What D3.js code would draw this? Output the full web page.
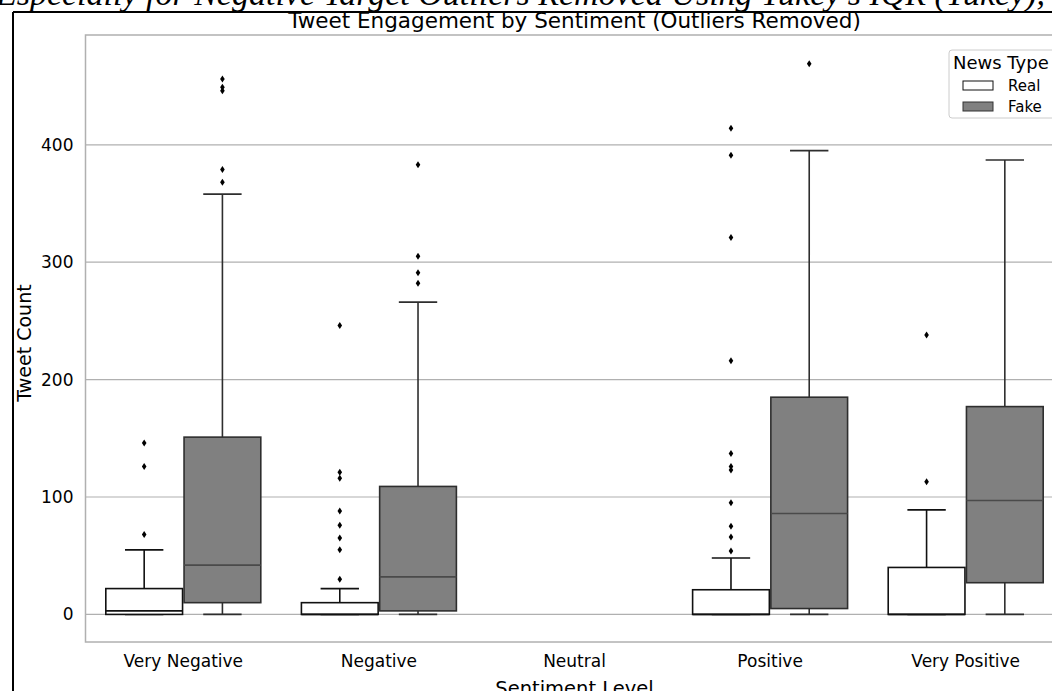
<!DOCTYPE html>
<html>
<head>
<meta charset="utf-8">
<script src="https://cdn.jsdelivr.net/npm/d3@7"></script>
<style>
  html, body { margin: 0; padding: 0; background: #fff; overflow: hidden; }
  svg { display: block; font-family: "DejaVu Sans", sans-serif; }
</style>
</head>
<body>
<svg id="chart" width="1052" height="691"></svg>
<script>
// Sentiment categories on the x axis
const categories = ["Very Negative", "Negative", "Neutral", "Positive", "Very Positive"];
const seriesNames = ["Real", "Fake"];
const seriesFill = ["#ffffff", "#808080"];
const yTicks = [0, 100, 200, 300, 400];

// Box statistics per category (null where a category has no tweets)
// [whiskerLow, q1, median, q3, whiskerHigh]
const realBoxes = [
  [0, 0, 3, 22, 55],
  [0, 0, 0, 10, 22],
  null,
  [0, 0, 0, 21, 48],
  [0, 0, 0, 40, 89]
];
const fakeBoxes = [
  [0, 10, 42, 151, 358],
  [0, 3, 32, 109, 266],
  null,
  [0, 5, 86, 185, 395],
  [0, 27, 97, 177, 387]
];

// Points beyond the whiskers
const realOutliers = [
  [146, 126, 68],
  [246, 121, 116, 88, 76, 65, 55, 30],
  [],
  [414, 391, 321, 216, 137, 126, 123, 95, 75, 66, 54],
  [238, 113]
];
const fakeOutliers = [
  [456, 449, 446, 379, 368],
  [383, 305, 291, 282],
  [],
  [469],
  []
];

const svg = d3.select("#chart");
const W = 1052, H = 691;

// caption line above the frame
const caption = svg.append("text")
  .attr("y", 4.5)
  .attr("font-family", "'Liberation Serif', serif")
  .attr("font-style", "italic")
  .attr("font-size", 34)
  .attr("fill", "#000")
  .text("Especially for Negative Target Outliers Removed Using Tukey's IQR (Tukey),");
// shift so that the word "for" begins near x = 146
const forIdx = caption.text().indexOf("for");
caption.attr("x", 0);
const forX = caption.node().getStartPositionOfChar(forIdx).x;
caption.attr("x", 146 - forX);

// outer frame of the figure
svg.append("rect").attr("x", 13).attr("y", 12).attr("width", W).attr("height", H)
  .attr("fill", "#fff");
svg.append("line").attr("x1", 13).attr("x2", 13).attr("y1", 12).attr("y2", H)
  .attr("stroke", "#000").attr("stroke-width", 2);
svg.append("line").attr("x1", 13).attr("x2", W).attr("y1", 12).attr("y2", 12)
  .attr("stroke", "#000").attr("stroke-width", 2);

const plot = { left: 85.5, right: 1063.5, top: 35, bottom: 642 };

const x = d3.scaleBand().domain(categories).range([plot.left, plot.right]).padding(0);
const y = d3.scaleLinear().domain([-23.5, 493.5]).range([plot.bottom, plot.top]);
const bw = x.bandwidth();
const boxW = bw * 0.4 - 1.5;

const clip = svg.append("defs").append("clipPath").attr("id", "plotclip");
clip.append("rect").attr("x", plot.left).attr("y", plot.top)
  .attr("width", plot.right - plot.left).attr("height", plot.bottom - plot.top);

// horizontal grid lines
svg.append("g").selectAll("line").data(yTicks).join("line")
  .attr("x1", plot.left).attr("x2", plot.right)
  .attr("y1", d => y(d)).attr("y2", d => y(d))
  .attr("stroke", "#b0b0b0").attr("stroke-width", 1.2);

// y axis labels (no tick marks)
const yAxis = d3.axisLeft(y).tickValues(yTicks).tickSize(0).tickPadding(12);
svg.append("g").attr("transform", `translate(${plot.left},0)`).call(yAxis)
  .call(g => g.select(".domain").remove())
  .call(g => g.selectAll("text").attr("font-size", 17).attr("fill", "#000")
    .attr("font-family", "'DejaVu Sans', sans-serif"));

// x axis labels
const xAxis = d3.axisBottom(x).tickSize(0).tickPadding(13);
svg.append("g").attr("transform", `translate(0,${plot.bottom})`).call(xAxis)
  .call(g => g.select(".domain").remove())
  .call(g => g.selectAll("text").attr("font-size", 17).attr("fill", "#000")
    .attr("font-family", "'DejaVu Sans', sans-serif"));

// axes frame
svg.append("rect").attr("x", plot.left).attr("y", plot.top)
  .attr("width", plot.right - plot.left).attr("height", plot.bottom - plot.top)
  .attr("fill", "none").attr("stroke", "#b0b0b0").attr("stroke-width", 1.5);

const marks = svg.append("g").attr("clip-path", "url(#plotclip)");

function drawSeries(boxes, outliers, si) {
  const edge = si === 0 ? "#111" : "#2e2e2e";
  const medColor = si === 0 ? "#111" : "#4a4a4a";
  boxes.forEach((b, i) => {
    const c = x(categories[i]) + bw / 2 + (si === 0 ? -1 : 1) * bw * 0.2;
    if (b) {
      const [lo, q1, med, q3, hi] = b;
      const g = marks.append("g");
      // whiskers
      g.append("line").attr("x1", c).attr("x2", c).attr("y1", y(q3)).attr("y2", y(hi))
        .attr("stroke", edge).attr("stroke-width", 1.6);
      g.append("line").attr("x1", c).attr("x2", c).attr("y1", y(q1)).attr("y2", y(lo))
        .attr("stroke", edge).attr("stroke-width", 1.6);
      [lo, hi].forEach(v => {
        g.append("line").attr("x1", c - boxW / 4).attr("x2", c + boxW / 4)
          .attr("y1", y(v)).attr("y2", y(v))
          .attr("stroke", edge).attr("stroke-width", 1.6);
      });
      // box
      g.append("rect").attr("x", c - boxW / 2).attr("y", y(q3))
        .attr("width", boxW).attr("height", Math.max(0, y(q1) - y(q3)))
        .attr("fill", seriesFill[si]).attr("stroke", edge).attr("stroke-width", 1.6);
      // median
      g.append("line").attr("x1", c - boxW / 2).attr("x2", c + boxW / 2)
        .attr("y1", y(med)).attr("y2", y(med))
        .attr("stroke", medColor).attr("stroke-width", 1.6);
    }
    // outliers as thin diamonds
    marks.append("g").selectAll("path").data(outliers[i]).join("path")
      .attr("d", "M0,-3.5 L2.3,0 L0,3.5 L-2.3,0 Z")
      .attr("transform", v => `translate(${c},${y(v)})`)
      .attr("fill", "#000");
  });
}
drawSeries(realBoxes, realOutliers, 0);
drawSeries(fakeBoxes, fakeOutliers, 1);

// title
svg.append("text").attr("x", (plot.left + plot.right) / 2).attr("y", 28)
  .attr("text-anchor", "middle").attr("font-size", 21.5).attr("fill", "#000")
  .text("Tweet Engagement by Sentiment (Outliers Removed)");

// axis titles
svg.append("text").attr("x", (plot.left + plot.right) / 2).attr("y", 695)
  .attr("text-anchor", "middle").attr("font-size", 19.5).attr("fill", "#000")
  .text("Sentiment Level");
svg.append("text").attr("transform", `translate(31,343) rotate(-90)`)
  .attr("text-anchor", "middle").attr("font-size", 19).attr("fill", "#000")
  .text("Tweet Count");

// legend
const lg = svg.append("g").attr("transform", "translate(949,50)");
lg.append("rect").attr("x", 0).attr("y", 0).attr("width", 120).attr("height", 68)
  .attr("rx", 3).attr("fill", "#fff").attr("fill-opacity", 0.85)
  .attr("stroke", "#cccccc").attr("stroke-width", 1);
lg.append("text").attr("x", 4).attr("y", 19).attr("font-size", 18).attr("fill", "#000")
  .text("News Type");
seriesNames.forEach((n, i) => {
  const yy = 31 + i * 21;
  lg.append("rect").attr("x", 14).attr("y", yy).attr("width", 30).attr("height", 9)
    .attr("fill", seriesFill[i]).attr("stroke", i === 0 ? "#111" : "#333").attr("stroke-width", 1);
  lg.append("text").attr("x", 59).attr("y", yy + 9.5).attr("font-size", 15).attr("fill", "#000")
    .text(n);
});
</script>
</body>
</html>
